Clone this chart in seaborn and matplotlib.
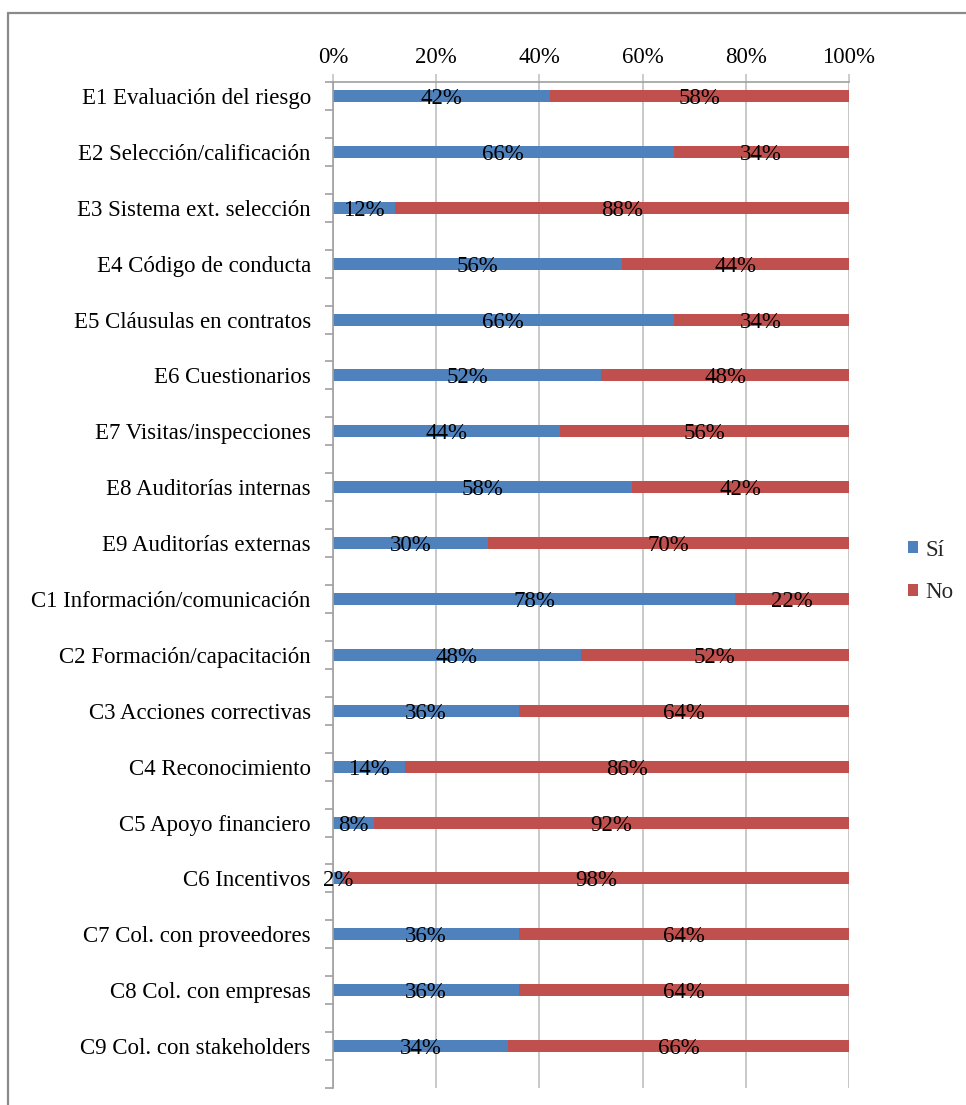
import matplotlib
matplotlib.use("Agg")
import matplotlib.pyplot as plt
from matplotlib.lines import Line2D
from matplotlib.patches import Patch
from matplotlib.ticker import FixedLocator, PercentFormatter
import numpy as np
import pandas as pd
import seaborn as sns

categories = [
    "E1 Evaluación del riesgo",
    "E2 Selección/calificación",
    "E3 Sistema ext. selección",
    "E4 Código de conducta",
    "E5 Cláusulas en contratos",
    "E6 Cuestionarios",
    "E7 Visitas/inspecciones",
    "E8 Auditorías internas",
    "E9 Auditorías externas",
    "C1 Información/comunicación",
    "C2 Formación/capacitación",
    "C3 Acciones correctivas",
    "C4 Reconocimiento",
    "C5 Apoyo financiero",
    "C6 Incentivos",
    "C7 Col. con proveedores",
    "C8 Col. con empresas",
    "C9 Col. con stakeholders",
]
si = [42, 66, 12, 56, 66, 52, 44, 58, 30, 78, 48, 36, 14, 8, 2, 36, 36, 34]
no = [58, 34, 88, 44, 34, 48, 56, 42, 70, 22, 52, 64, 86, 92, 98, 64, 64, 66]
series_names = ["Sí", "No"]
x_ticks = [0, 20, 40, 60, 80, 100]

BLUE = "#4F81BD"
RED = "#C0504D"
GRID = "#c4c4c4"
AXIS = "#a0a0a0"
FS = 16.5

sns.set_theme(style="white")
plt.rcParams["font.family"] = ["Liberation Serif", "DejaVu Serif"]

df = pd.DataFrame({"cat": categories, "si": si, "no": no})
df["total"] = df["si"] + df["no"]

fig = plt.figure(figsize=(9.66, 11.05), dpi=100)
ax = fig.add_axes([333 / 966, 1 - 1088 / 1105, (849 - 333) / 966, (1088 - 82) / 1105])

# stacked bars: the full bar in red, the "Sí" share drawn over it in blue
sns.barplot(data=df, x="total", y="cat", color=RED, width=0.215, ax=ax,
            saturation=1, orient="h", linewidth=0, edgecolor="none")
sns.barplot(data=df, x="si", y="cat", color=BLUE, width=0.215, ax=ax,
            saturation=1, orient="h", linewidth=0, edgecolor="none")

for i, (a, b) in enumerate(zip(si, no)):
    ax.text(a / 2, i, f"{a}%", ha="center", va="center_baseline",
            fontsize=FS, color="black")
    ax.text(a + b / 2, i, f"{b}%", ha="center", va="center_baseline",
            fontsize=FS, color="black")

n = len(categories)
ax.set_xlim(0, 100)
# each category sits in the upper half of its slot, with tick marks every half slot
ax.set_ylim(n - 0.25, -0.25)
ax.set_xlabel("")
ax.set_ylabel("")

ax.xaxis.tick_top()
ax.set_xticks(x_ticks)
ax.xaxis.set_major_formatter(PercentFormatter(decimals=0))
ax.tick_params(axis="x", which="major", top=True, bottom=False, length=5.5,
               color=GRID, width=1.2, pad=4.5, labelsize=FS, labelcolor="black")
ax.grid(axis="x", color=GRID, linewidth=1.3)
ax.grid(axis="y", visible=False)
ax.set_axisbelow(True)

ax.yaxis.set_minor_locator(FixedLocator(np.arange(-0.25, n, 0.5)))
ax.tick_params(axis="y", which="major", left=True, length=0, pad=16,
               labelsize=FS, labelcolor="black")
ax.tick_params(axis="y", which="minor", left=True, length=5.5, width=1.2,
               color=AXIS)

for side in ["right", "bottom"]:
    ax.spines[side].set_visible(False)
for side in ["left", "top"]:
    ax.spines[side].set_visible(True)
    ax.spines[side].set_color(AXIS)
    ax.spines[side].set_linewidth(1.2)

handles = [Patch(facecolor=BLUE, edgecolor="none"), Patch(facecolor=RED, edgecolor="none")]
fig.legend(handles, series_names, loc="center left",
           bbox_to_anchor=(908 / 966, 1 - 571.5 / 1105), frameon=False,
           fontsize=FS, handlelength=0.42, handleheight=0.42,
           handletextpad=0.35, labelspacing=0.95, borderpad=0, borderaxespad=0)

# outer frame (left and top edges)
fig.add_artist(Line2D([8 / 966, 8 / 966], [0, 1 - 13 / 1105], transform=fig.transFigure,
                      color="#8a8a8a", linewidth=1.6))
fig.add_artist(Line2D([8 / 966, 1], [1 - 13 / 1105, 1 - 13 / 1105], transform=fig.transFigure,
                      color="#8a8a8a", linewidth=1.6))

fig.savefig("out.png", dpi=100, facecolor="white")
